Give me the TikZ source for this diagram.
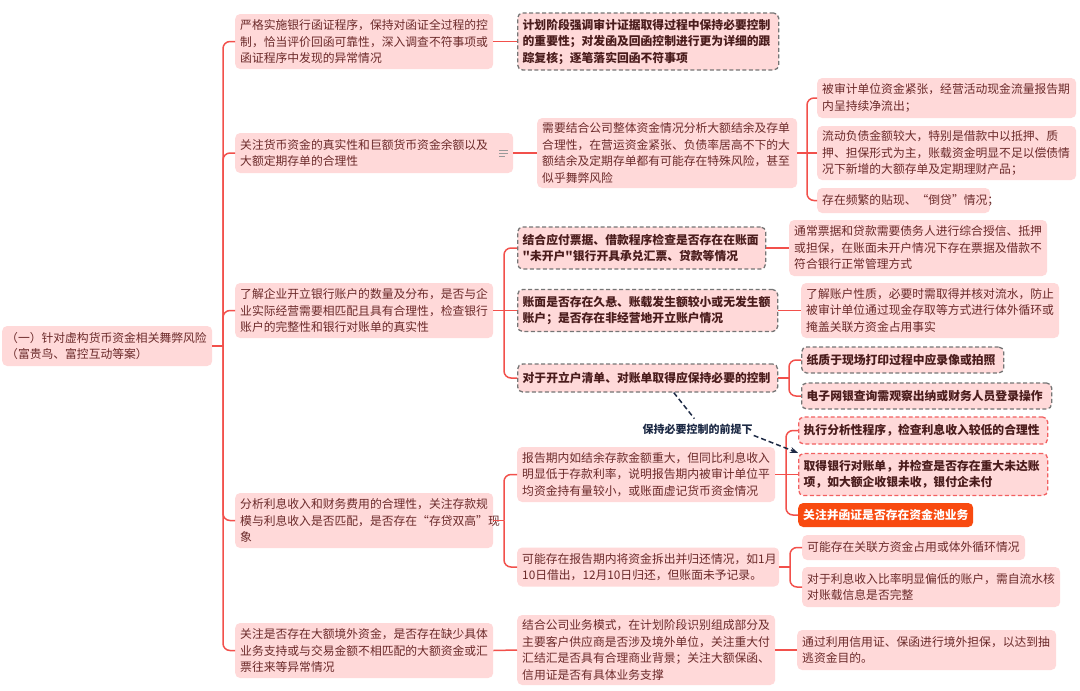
\documentclass[tikz,border=0pt]{standalone}
\usepackage{fontspec}
\setmainfont{Noto Sans CJK SC}[Ligatures=TeXOff]
\usetikzlibrary{arrows.meta,calc}
\definecolor{pk}{HTML}{FFD9D9}
\definecolor{tx}{HTML}{6B2A2A}
\definecolor{tb}{HTML}{4A1C1C}
\definecolor{ln}{HTML}{F2504B}
\definecolor{gd}{HTML}{757575}
\definecolor{rd}{HTML}{F26060}
\definecolor{og}{HTML}{F84A10}
\definecolor{nv}{HTML}{1D2A45}
\newcommand\myfs{\fontsize{11.8pt}{16.5pt}\selectfont}
\begin{document}
\begin{tikzpicture}[x=1pt,y=-1pt,
  box/.style={fill=pk, rounded corners=5pt, anchor=west, align=left, inner xsep=5pt, inner ysep=1pt, text=tx, font=\myfs},
  gbox/.style={box, draw=gd, dash pattern=on 4pt off 2.5pt, line width=1.3pt, text=tb, font=\myfs\bfseries},
  rbox/.style={gbox, draw=rd},
  obox/.style={box, fill=og, text=white, font=\myfs\bfseries},
  conn/.style={draw=ln, line width=1.5pt, rounded corners=7pt},
  hint/.style={nv, line width=1.5pt, dash pattern=on 5pt off 3pt}]
\useasboundingbox (0,0) rectangle (1080,691);
\fill[white] (0,0) rectangle (1080,691);

% root
\node[box, inner xsep=4pt, text width=202pt, minimum height=40pt] (root) at (2,346) {（一）针对虚构货币资金相关舞弊风险\\（富贵鸟、富控互动等案）};

% level 1
\node[box, text width=248pt, minimum height=55pt] (a1) at (235,41.5) {严格实施银行函证程序，保持对函证全过程的控\\制，恰当评价回函可靠性，深入调查不符事项或\\函证程序中发现的异常情况};
\node[box, text width=268pt, minimum height=40pt] (b1) at (235,153) {关注货币资金的真实性和巨额货币资金余额以及\\大额定期存单的合理性};
\node[box, text width=248pt, minimum height=55pt] (c1) at (235,310.5) {了解企业开立银行账户的数量及分布，是否与企\\业实际经营需要相匹配且具有合理性，检查银行\\账户的完整性和银行对账单的真实性};
\node[box, text width=248pt, minimum height=55pt] (d1) at (235,520.5) {分析利息收入和财务费用的合理性，关注存款规\\模与利息收入是否匹配，是否存在“存贷双高”现\\象};
\node[box, text width=248pt, minimum height=55pt] (e1) at (235,650.5) {关注是否存在大额境外资金，是否存在缺少具体\\业务支持或与交易金额不相匹配的大额资金或汇\\票往来等异常情况};

% note icon
\draw[gray!80, line width=0.8pt] (499,150) -- (508,150) (499,153) -- (508,153) (499,156) -- (505,156);

% level 2
\node[gbox, text width=251pt, minimum height=57pt] (a2) at (517,41.5) {计划阶段强调审计证据取得过程中保持必要控制\\的重要性；对发函及回函控制进行更为详细的跟\\踪复核；逐笔落实回函不符事项};
\node[box, text width=250pt, minimum height=70pt] (b2) at (537,153) {需要结合公司整体资金情况分析大额结余及存单\\合理性，在营运资金紧张、负债率居高不下的大\\额结余及定期存单都有可能存在特殊风险，甚至\\似乎舞弊风险};
\node[gbox, text width=238pt, minimum height=42pt] (c2) at (517,248) {结合应付票据、借款程序检查是否存在在账面\\"未开户"银行开具承兑汇票、贷款等情况};
\node[gbox, text width=250pt, minimum height=42pt] (d2) at (517,310.5) {账面是否存在久悬、账载发生额较小或无发生额\\账户；是否存在非经营地开立账户情况};
\node[gbox, text width=250pt, minimum height=28pt] (e2) at (517,378) {对于开立户清单、对账单取得应保持必要的控制};
\node[box, text width=248pt, minimum height=55pt] (f2) at (517,474.5) {报告期内如结余存款金额重大，但同比利息收入\\明显低于存款利率，说明报告期内被审计单位平\\均资金持有量较小，或账面虚记货币资金情况};
\node[box, text width=252pt, minimum height=39pt] (g2) at (517,567) {可能存在报告期内将资金拆出并归还情况，如1月\\10日借出，12月10日归还，但账面未予记录。};
\node[box, text width=248pt, minimum height=70pt] (h2) at (517,650) {结合公司业务模式，在计划阶段识别组成部分及\\主要客户供应商是否涉及境外单位，关注重大付\\汇结汇是否具有合理商业背景；关注大额保函、\\信用证是否有具体业务支撑};

% level 3
\node[box, text width=249pt, minimum height=40pt] (a3) at (817,98) {被审计单位资金紧张，经营活动现金流量报告期\\内呈持续净流出；};
\node[box, text width=249pt, minimum height=54pt] (b3) at (817,153) {流动负债金额较大，特别是借款中以抵押、质\\押、担保形式为主，账载资金明显不足以偿债情\\况下新增的大额存单及定期理财产品；};
\node[box, text width=163pt, minimum height=25pt] (c3) at (817,200.5) {存在频繁的贴现、“倒贷”情况；};
\node[box, text width=248pt, minimum height=56pt] (d3) at (789,248) {通常票据和贷款需要债务人进行综合授信、抵押\\或担保，在账面未开户情况下存在票据及借款不\\符合银行正常管理方式};
\node[box, text width=248pt, minimum height=55pt] (e3) at (801,310.5) {了解账户性质，必要时需取得并核对流水，防止\\被审计单位通过现金存取等方式进行体外循环或\\掩盖关联方资金占用事实};
\node[gbox, text width=192pt, minimum height=26pt] (f3) at (801,360) {纸质于现场打印过程中应录像或拍照};
\node[gbox, text width=240pt, minimum height=26pt] (g3) at (801,396) {电子网银查询需观察出纳或财务人员登录操作};
\node[rbox, text width=239pt, minimum height=27pt] (h3) at (798,430.5) {执行分析性程序，检查利息收入较低的合理性};
\node[rbox, text width=239pt, minimum height=42pt] (i3) at (798,474.5) {取得银行对账单，并检查是否存在重大未达账\\项，如大额企收银未收，银付企未付};
\node[obox, text width=165pt, minimum height=24pt] (j3) at (798,515) {关注并函证是否存在资金池业务};
\node[box, text width=213pt, minimum height=25pt] (k3) at (802,547.5) {可能存在关联方资金占用或体外循环情况};
\node[box, text width=248pt, minimum height=40pt] (l3) at (802,587) {对于利息收入比率明显偏低的账户，需自流水核\\对账载信息是否完整};
\node[box, text width=249pt, minimum height=40pt] (m3) at (797,650) {通过利用信用证、保函进行境外担保，以达到抽\\逃资金目的。};

% connectors
\coordinate (tr) at (223,346);
\draw[conn, line width=2.5pt] (root.east) -- (tr);
\foreach \n in {a1,b1,c1,d1,e1} \draw[conn] (tr) |- (\n.west);
\draw[conn] (a1.east) -- (a2.west);
\draw[conn] (b1.east) -- (b2.west);
\coordinate (cb) at (504,310.5);
\draw[conn] (c1.east) -- (d2.west);
\draw[conn] (cb) |- (c2.west);
\draw[conn] (cb) |- (e2.west);
\coordinate (db) at (504,520.5);
\draw[conn] (d1.east) -- (db);
\draw[conn] (db) |- (f2.west);
\draw[conn] (db) |- (g2.west);
\draw[conn] (e1.east) -- (h2.west);
\coordinate (bb) at (807,153);
\draw[conn] (b2.east) -- (b3.west);
\draw[conn] (bb) |- (a3.west);
\draw[conn] (bb) |- (c3.west);
\draw[conn] (c2.east) -- (d3.west);
\draw[conn] (d2.east) -- (e3.west);
\coordinate (eb) at (789,378);
\draw[conn] (e2.east) -- (eb);
\draw[conn] (eb) |- (f3.west);
\draw[conn] (eb) |- (g3.west);
\coordinate (fb) at (786,474.5);
\draw[conn] (f2.east) -- (i3.west);
\draw[conn] (fb) |- (h3.west);
\draw[conn] (fb) |- (j3.west);
\coordinate (gb) at (790,567);
\draw[conn] (g2.east) -- (gb);
\draw[conn] (gb) |- (k3.west);
\draw[conn] (gb) |- (l3.west);
\draw[conn] (h2.east) -- (m3.west);

% hint label
\node[font=\fontsize{11pt}{13pt}\selectfont\bfseries, text=nv, inner sep=1pt] (lbl) at (697.5,429) {保持必要控制的前提下};
\draw[hint, shorten >=5pt] ($(e2.south west)!0.6!(e2.south east)$) -- (lbl.north);
\draw[hint, -{Stealth[length=8pt,width=6pt]}] (lbl.south east) -- (i3.north west);
\end{tikzpicture}
\end{document}
